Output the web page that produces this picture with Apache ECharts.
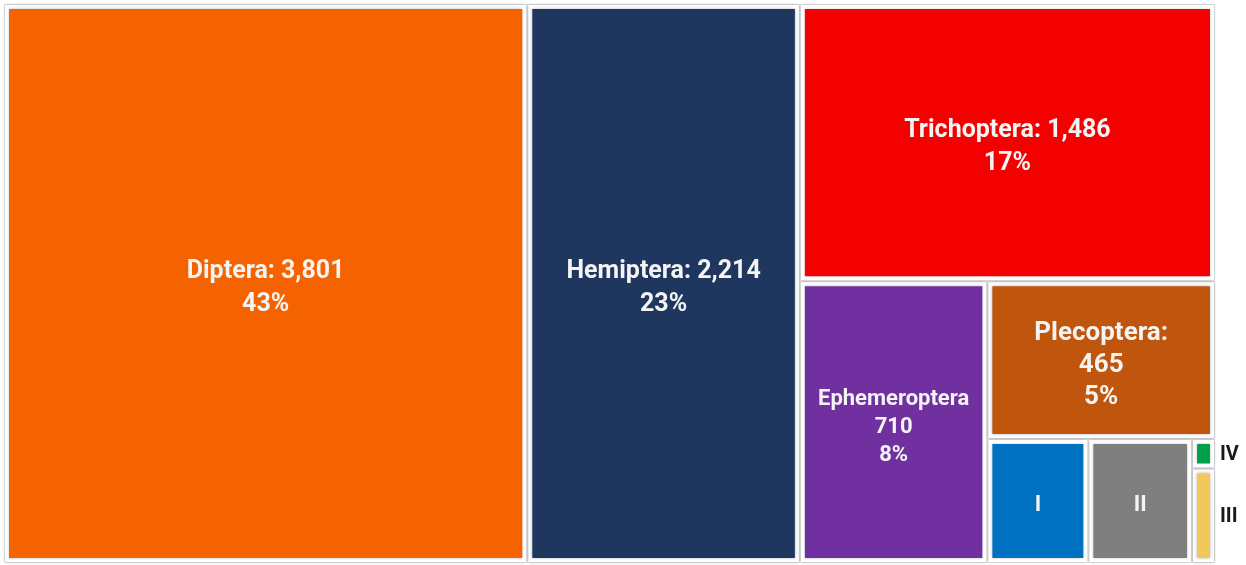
<!DOCTYPE html>
<html>
<head>
<meta charset="utf-8">
<script src="https://cdn.jsdelivr.net/npm/echarts@6/dist/echarts.min.js"></script>
<style>
    html, body { margin: 0; padding: 0; background: #fff; }
    #main { width: 1246px; height: 565px; }
</style>
</head>
<body>
<div id="main"></div>
<script>
// 类别
var names = ['Diptera', 'Hemiptera', 'Trichoptera', 'Ephemeroptera', 'Plecoptera', 'I', 'II', 'IV', 'III'];
// 标签上的数量
var counts = [3801, 2214, 1486, 710, 465, null, null, null, null];
// 标签上的百分比
var percents = [43, 23, 17, 8, 5, null, null, null, null];
// 面积占比（%），从图上量出
var shares = [43.2, 22.5, 17.0, 7.8, 5.3, 1.85, 1.9, 0.1, 0.32];

// 颜色
var colors = ['#f56200', '#1f375f', '#f50000', '#7030a0', '#c0560e', '#0070c0', '#7f7f7f', '#00a04b', '#f2c85a'];

function fmtNum(v) {
    return String(v).replace(/\B(?=(\d{3})+(?!\d))/g, ',');
}

/**
 * 每个格子的标签文字
 */
function labelText(i) {
    var n = names[i], p = percents[i];
    if (p === null) return n;
    var v = fmtNum(counts[i]);
    if (n === 'Ephemeroptera') return n + '\n' + v + '\n' + p + '%';
    if (n === 'Plecoptera') return n + ':\n' + v + '\n' + p + '%';
    return n + ': ' + v + '\n' + p + '%';
}

var data = names.map(function(n, i) {
    var item = {
        name: n,
        value: shares[i],
        itemStyle: { color: colors[i] },
        label: { formatter: labelText(i) }
    };
    if (n === 'Ephemeroptera') {
        item.label.fontSize = 22;
        item.label.lineHeight = 28;
    }
    if (n === 'Plecoptera') {
        item.label.fontSize = 26;
        item.label.lineHeight = 32;
    }
    if (n === 'I' || n === 'II') {
        item.label.fontSize = 22;
    }
    if (n === 'III' || n === 'IV') {
        // 小格子的标签放在右侧
        item.label.position = 'right';
        item.label.align = 'left';
        item.label.offset = [-5, 1];
        item.label.color = '#1a1a1a';
        item.label.fontSize = 20;
        item.label.lineHeight = 8;
        item.label.distance = 10;
        item.label.overflow = 'none';
    }
    return item;
});

var chart = echarts.init(document.getElementById('main'));
chart.setOption({
    animation: false,
    series: [{
        type: 'treemap',
        left: 4,
        top: 4,
        right: 31,
        bottom: 2,
        roam: false,
        nodeClick: false,
        breadcrumb: { show: false },
        sort: false,
        squareRatio: 0.9,
        label: {
            show: true,
            position: 'inside',
            color: '#f4f4f4',
            fontFamily: 'Roboto',
            fontWeight: 'bold',
            fontSize: 25,
            lineHeight: 33,
            offset: [0, 5],
            align: 'center',
            verticalAlign: 'middle'
        },
        levels: [
            { itemStyle: { borderWidth: 1, borderColor: '#e3e3e3', gapWidth: 2 } },
            {
                itemStyle: {
                    borderWidth: 4,
                    borderColor: '#ffffff',
                    gapWidth: 0,
                    shadowBlur: 3,
                    shadowColor: 'rgba(0,0,0,0.28)'
                }
            }
        ],
        data: data
    }]
});
</script>
</body>
</html>
